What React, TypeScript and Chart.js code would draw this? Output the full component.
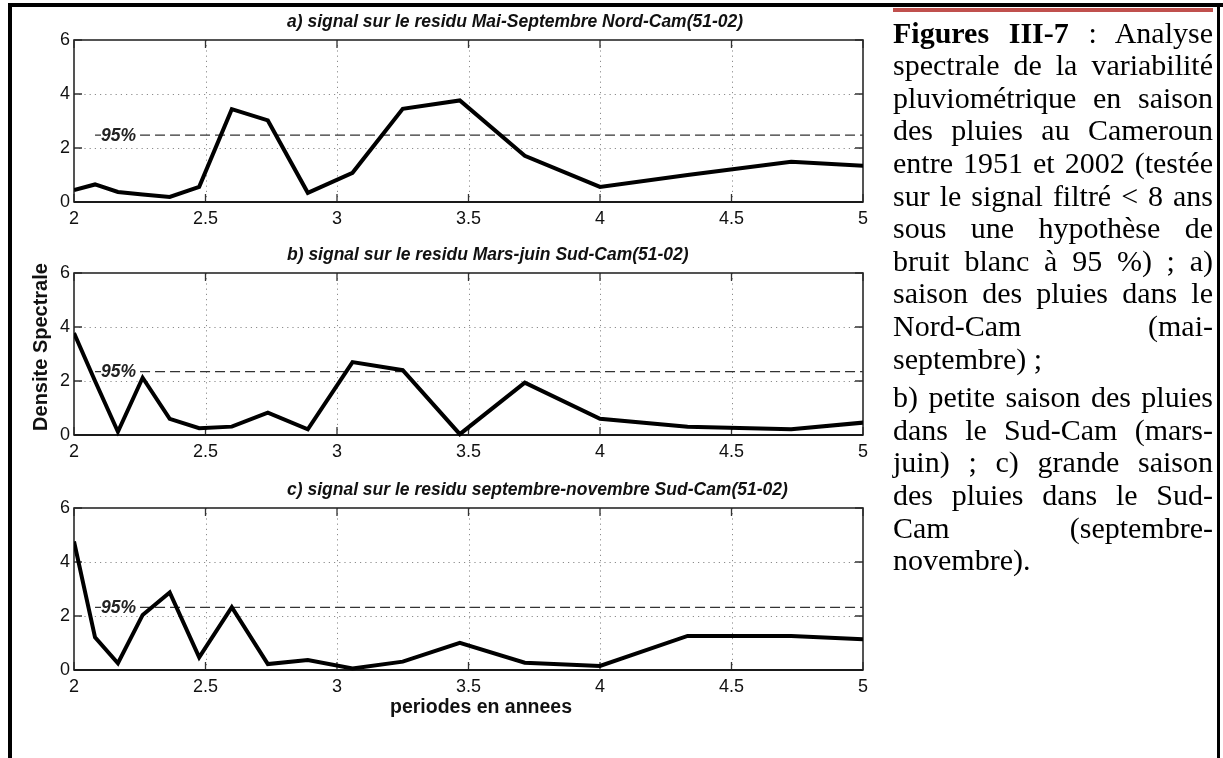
import React, { useEffect, useRef } from "react";
import { Chart, registerables } from "chart.js";

Chart.register(...registerables);

// ---------- data ----------
const PERIODS = [2.0, 2.08, 2.167, 2.261, 2.364, 2.476, 2.6, 2.737, 2.889, 3.059, 3.25, 3.467, 3.714, 4.0, 4.333, 4.727, 5.2];
const SERIES_A = [0.44, 0.65, 0.37, 0.28, 0.19, 0.56, 3.44, 3.02, 0.34, 1.08, 3.45, 3.76, 1.71, 0.56, 1.0, 1.49, 1.23];
const SERIES_B = [3.78, 2.0, 0.12, 2.12, 0.6, 0.25, 0.31, 0.83, 0.21, 2.7, 2.4, 0.03, 1.94, 0.6, 0.31, 0.21, 0.64];
const SERIES_C = [4.76, 1.21, 0.25, 2.04, 2.87, 0.47, 2.33, 0.22, 0.37, 0.06, 0.31, 1.01, 0.27, 0.15, 1.26, 1.26, 1.05];
const THRESHOLDS = [2.48, 2.35, 2.32];
const THRESHOLD_X = [2.08, 5];
const X_TICKS = [2, 2.5, 3, 3.5, 4, 4.5, 5];
const X_TICK_LABELS = ["2", "2.5", "3", "3.5", "4", "4.5", "5"];
const Y_TICKS = [0, 2, 4, 6];
const Y_TICK_LABELS = ["0", "2", "4", "6"];
const TITLES = [
  "a) signal sur le residu Mai-Septembre Nord-Cam(51-02)",
  "b) signal sur le residu Mars-juin Sud-Cam(51-02)",
  "c) signal sur le residu septembre-novembre Sud-Cam(51-02)",
];
const THRESHOLD_LABEL = "95%";
const Y_AXIS_TITLE = "Densite Spectrale";
const X_AXIS_TITLE = "periodes en annees";

const CAPTION_BOLD = "Figures III-7";
const CAPTION_P1 = [
  " : Analyse",
  "spectrale de la variabilité",
  "pluviométrique en saison",
  "des pluies au Cameroun",
  "entre 1951 et 2002 (testée",
  "sur le signal filtré < 8 ans",
  "sous une hypothèse de",
  "bruit blanc à 95 %) ; a)",
  "saison des pluies dans le",
  "Nord-Cam (mai-",
  "septembre) ;",
];
const CAPTION_P2 = [
  "b) petite saison des pluies",
  "dans le Sud-Cam (mars-",
  "juin) ; c) grande saison",
  "des pluies dans le Sud-",
  "Cam (septembre-",
  "novembre).",
];

// ---------- styling ----------
const SANS = '"Liberation Sans", Arial, Helvetica, sans-serif';
const SERIF = '"Liberation Serif", "Times New Roman", serif';
const CANVAS_W = 900;
const PAD_TOP = 34;
const PLOT_H = 162;

const framePlugin = {
  id: "matlabFrame",
  beforeDatasetsDraw(chart: any, _args: any, opts: any) {
    const { ctx, chartArea: a, scales } = chart;
    const x = scales.x;
    const y = scales.y;
    ctx.save();
    // dotted grid
    ctx.strokeStyle = "#8c8c8c";
    ctx.lineWidth = 1;
    ctx.setLineDash([1.2, 4]);
    X_TICKS.forEach((v) => {
      if (v > x.min && v < x.max) {
        const px = Math.round(x.getPixelForValue(v)) + 0.5;
        ctx.beginPath();
        ctx.moveTo(px, a.top);
        ctx.lineTo(px, a.bottom);
        ctx.stroke();
      }
    });
    Y_TICKS.forEach((v) => {
      if (v > y.min && v < y.max) {
        const py = Math.round(y.getPixelForValue(v)) + 0.5;
        ctx.beginPath();
        ctx.moveTo(a.left, py);
        ctx.lineTo(a.right, py);
        ctx.stroke();
      }
    });
    ctx.setLineDash([]);
    // inner tick marks
    ctx.strokeStyle = "#333";
    ctx.lineWidth = 1.3;
    const tl = 8;
    X_TICKS.forEach((v) => {
      const px = x.getPixelForValue(v);
      ctx.beginPath();
      ctx.moveTo(px, a.top);
      ctx.lineTo(px, a.top + tl);
      ctx.moveTo(px, a.bottom);
      ctx.lineTo(px, a.bottom - tl);
      ctx.stroke();
    });
    Y_TICKS.forEach((v) => {
      const py = y.getPixelForValue(v);
      ctx.beginPath();
      ctx.moveTo(a.left, py);
      ctx.lineTo(a.left + tl, py);
      ctx.moveTo(a.right, py);
      ctx.lineTo(a.right - tl, py);
      ctx.stroke();
    });
    // box
    ctx.strokeStyle = "#2a2a2a";
    ctx.lineWidth = 1.6;
    ctx.strokeRect(a.left, a.top, a.right - a.left, a.bottom - a.top);
    ctx.strokeStyle = "#1a1a1a";
    ctx.lineWidth = 2.2;
    ctx.beginPath();
    ctx.moveTo(a.left, a.bottom);
    ctx.lineTo(a.right, a.bottom);
    ctx.stroke();
    ctx.restore();
  },
  afterDatasetsDraw(chart: any, _args: any, opts: any) {
    const { ctx, chartArea: a, scales } = chart;
    const y = scales.y;
    ctx.save();
    // 95% label
    ctx.font = `italic bold 17.5px ${SANS}`;
    ctx.textBaseline = "middle";
    ctx.textAlign = "left";
    const ty = y.getPixelForValue(opts.threshold);
    const tx = 101;
    const tw = ctx.measureText(THRESHOLD_LABEL).width;
    ctx.fillStyle = "#fff";
    ctx.fillRect(tx, ty - 8, tw, 16);
    ctx.fillStyle = "#222";
    ctx.fillText(THRESHOLD_LABEL, tx, ty + 1);
    // panel title
    ctx.font = `italic bold 17.5px ${SANS}`;
    ctx.fillStyle = "#111";
    ctx.fillText(opts.title, 287, a.top - 17.5);
    // axis titles
    if (opts.yTitle) {
      ctx.save();
      ctx.font = `bold 20px ${SANS}`;
      ctx.textAlign = "center";
      ctx.translate(41, a.top + 74);
      ctx.rotate(-Math.PI / 2);
      ctx.fillText(Y_AXIS_TITLE, 0, 0);
      ctx.restore();
    }
    if (opts.xTitle) {
      ctx.font = `bold 19.5px ${SANS}`;
      ctx.textAlign = "center";
      ctx.fillText(X_AXIS_TITLE, 481, a.bottom + 37.5);
    }
    ctx.restore();
  },
};

type PanelProps = {
  values: number[];
  threshold: number;
  title: string;
  top: number;
  xAxisHeight: number;
  yTitle?: boolean;
  xTitle?: boolean;
};

function Panel({ values, threshold, title, top, xAxisHeight, yTitle, xTitle }: PanelProps) {
  const ref = useRef<HTMLCanvasElement | null>(null);
  const height = PAD_TOP + PLOT_H + xAxisHeight;
  useEffect(() => {
    if (!ref.current) return;
    const chart = new Chart(ref.current, {
      type: "line",
      data: {
        datasets: [
          {
            data: PERIODS.map((p, i) => ({ x: p, y: values[i] })),
            borderColor: "#000",
            borderWidth: 4,
            pointRadius: 0,
            tension: 0,
            borderJoinStyle: "miter",
            borderCapStyle: "butt",
            clip: { left: 0, right: 0, top: 6, bottom: 6 },
          } as any,
          {
            data: THRESHOLD_X.map((x) => ({ x, y: threshold })),
            borderColor: "#333",
            borderWidth: 1.3,
            borderDash: [10, 5],
            pointRadius: 0,
            clip: 0,
          } as any,
        ],
      },
      options: {
        responsive: false,
        animation: false,
        devicePixelRatio: 1,
        layout: { padding: { left: 0, right: 37, top: PAD_TOP, bottom: 0 } },
        plugins: {
          legend: { display: false },
          tooltip: { enabled: false },
          title: { display: false },
          matlabFrame: { threshold, title, yTitle: !!yTitle, xTitle: !!xTitle },
        } as any,
        scales: {
          x: {
            type: "linear",
            min: 2,
            max: 5,
            afterBuildTicks: (s: any) => {
              s.ticks = X_TICKS.map((v) => ({ value: v }));
            },
            afterFit: (s: any) => {
              s.height = xAxisHeight;
            },
            grid: { display: false, drawTicks: false },
            border: { display: false },
            ticks: {
              autoSkip: false,
              maxRotation: 0,
              padding: 6,
              color: "#111",
              font: { family: SANS, size: 18 },
              callback: (_v: any, i: number) => X_TICK_LABELS[i],
            },
          },
          y: {
            type: "linear",
            min: 0,
            max: 6,
            afterBuildTicks: (s: any) => {
              s.ticks = Y_TICKS.map((v) => ({ value: v }));
            },
            afterFit: (s: any) => {
              s.width = 74;
            },
            grid: { display: false, drawTicks: false },
            border: { display: false },
            ticks: {
              padding: 4,
              color: "#111",
              font: { family: SANS, size: 18 },
              callback: (_v: any, i: number) => Y_TICK_LABELS[i],
            },
          },
        },
      } as any,
      plugins: [framePlugin as any],
    });
    return () => chart.destroy();
  }, []);
  return (
    <div style={{ position: "absolute", left: 0, top, width: CANVAS_W, height }}>
      <canvas ref={ref} width={CANVAS_W} height={height} style={{ width: CANVAS_W, height, display: "block" }} />
    </div>
  );
}

const lineStyle: React.CSSProperties = {
  textAlign: "justify",
  textAlignLast: "justify" as any,
  height: 32.6,
  lineHeight: "32.6px",
  whiteSpace: "normal",
};
const lastLineStyle: React.CSSProperties = {
  textAlign: "left",
  height: 32.6,
  lineHeight: "32.6px",
};

export default function App() {
  return (
    <div
      style={{
        position: "absolute",
        left: 0,
        top: 0,
        width: 1223,
        height: 758,
        background: "#fff",
        overflow: "hidden",
      }}
    >
      {/* document frame */}
      <div style={{ position: "absolute", left: 8, top: 3, width: 1215, height: 4, background: "#000" }} />
      <div style={{ position: "absolute", left: 8, top: 3, width: 4, height: 755, background: "#000" }} />
      <div style={{ position: "absolute", left: 1217, top: 3, width: 3, height: 755, background: "#000" }} />
      <div style={{ position: "absolute", left: 893, top: 8, width: 320, height: 3.5, background: "#c0504d" }} />

      <Panel values={SERIES_A} threshold={THRESHOLDS[0]} title={TITLES[0]} top={40 - PAD_TOP} xAxisHeight={30} />
      <Panel values={SERIES_B} threshold={THRESHOLDS[1]} title={TITLES[1]} top={273 - PAD_TOP} xAxisHeight={30} yTitle />
      <Panel values={SERIES_C} threshold={THRESHOLDS[2]} title={TITLES[2]} top={508 - PAD_TOP} xAxisHeight={55} xTitle />

      {/* caption */}
      <div
        style={{
          position: "absolute",
          left: 893,
          top: 16.6,
          width: 320,
          fontFamily: SERIF,
          fontSize: 30,
          color: "#000",
        }}
      >
        {CAPTION_P1.map((t, i) =>
          i === 0 ? (
            <div key={i} style={lineStyle}>
              <b>{CAPTION_BOLD}</b>
              {t}
            </div>
          ) : (
            <div key={i} style={i === CAPTION_P1.length - 1 ? lastLineStyle : lineStyle}>
              {t}
            </div>
          )
        )}
        <div style={{ height: 6 }} />
        {CAPTION_P2.map((t, i) => (
          <div key={"b" + i} style={i === CAPTION_P2.length - 1 ? lastLineStyle : lineStyle}>
            {t}
          </div>
        ))}
      </div>
    </div>
  );
}
